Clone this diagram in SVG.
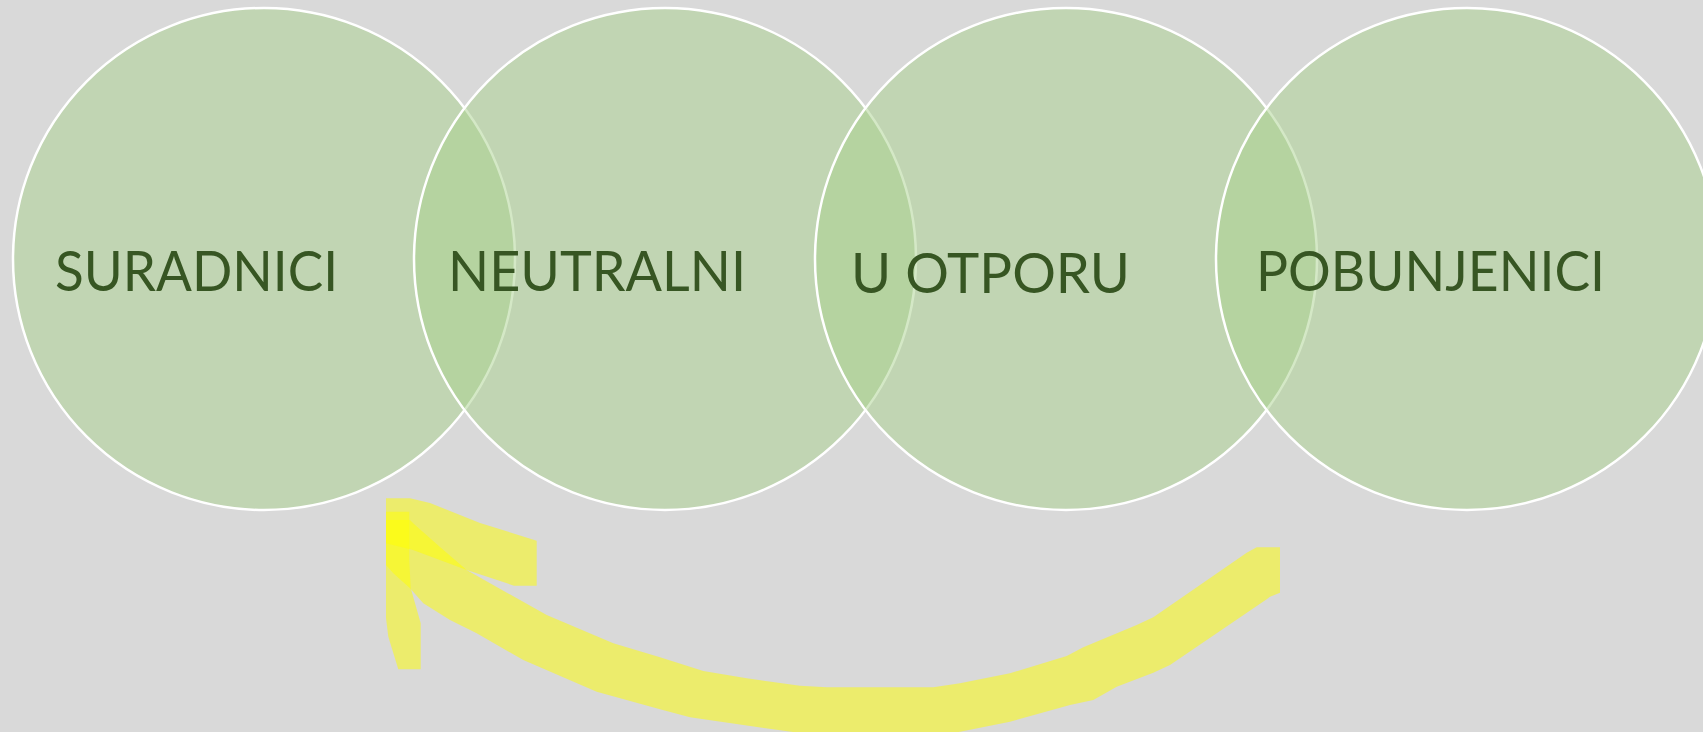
<svg xmlns="http://www.w3.org/2000/svg" width="1703" height="732" viewBox="0 0 1703 732">
  <style>
    .bubble { fill: #a9d18e; fill-opacity: 0.5; stroke: #ffffff; stroke-width: 2.5; }
    .label { font-family: Lato, "Open Sans", "Liberation Sans", sans-serif; font-size: 57px; fill: #375623; }
    .hl { opacity: 0.5; }
    .hl path { fill: #ffff00; }
  </style>
  <rect x="0" y="0" width="1703" height="732" fill="#d9d9d9"/>

  <g id="node-suradnici">
    <circle class="bubble" cx="264" cy="259" r="251"/>
    <text class="label" x="55" y="291" textLength="283" lengthAdjust="spacingAndGlyphs">SURADNICI</text>
  </g>
  <g id="node-neutralni">
    <circle class="bubble" cx="665" cy="259" r="251"/>
    <text class="label" x="448" y="291" textLength="298" lengthAdjust="spacingAndGlyphs">NEUTRALNI</text>
  </g>
  <g id="node-u-otporu">
    <circle class="bubble" cx="1066" cy="259" r="251"/>
    <text class="label" x="851" y="293" textLength="279" lengthAdjust="spacingAndGlyphs">U OTPORU</text>
  </g>
  <g id="node-pobunjenici">
    <circle class="bubble" cx="1467" cy="259" r="251"/>
    <text class="label" x="1256" y="291" textLength="349" lengthAdjust="spacingAndGlyphs">POBUNJENICI</text>
  </g>

  <g id="connectors">
    <g class="hl" id="stroke-band">
      <path d="M386,520 L410,520 L414,524 L440,547 L466.7,570 L496.7,587 L546.7,615 L613.3,643.3 L660,657.3 L703.3,671 L746.7,678.3 L800,685.7 L826.7,687.3 L880,687.3 L933.3,687.3 L960,683.3 L1010,673.3 L1066.7,656 L1083.3,647.3 L1136.7,625 L1153.3,617.3 L1246.7,552.7 L1256.7,547.3 L1280,547.3 L1280,592.7 L1270,596.7 L1266.7,599.3 L1170,665 L1153.3,672.7 L1116.7,686.7 L1093.3,700 L1070,705 L1010,721.7 L960,731.7 L900,745 L820,745 L793,732 L743.3,725 L690,717.3 L660,709.3 L596.7,691.7 L523.3,660 L476.7,633.3 L450,620 L423.3,603.3 L410,588.3 L393.3,573.3 L386,565 Z"/>
    </g>
    <g class="hl" id="stroke-wing-upper">
      <path d="M386,498.3 L410,498.3 L430,503 L480,523 L536.7,540.7 L536.7,585.7 L514,585.7 L466.7,570 L413,550 L386,543.3 Z"/>
    </g>
    <g class="hl" id="stroke-wing-lower">
      <path d="M386,511.7 L409.3,511.7 L409.3,560 L410.7,588 L420.7,623.3 L420.7,669.3 L398.3,669.3 L388.3,636.7 L386,618 Z"/>
    </g>
  </g>
</svg>
